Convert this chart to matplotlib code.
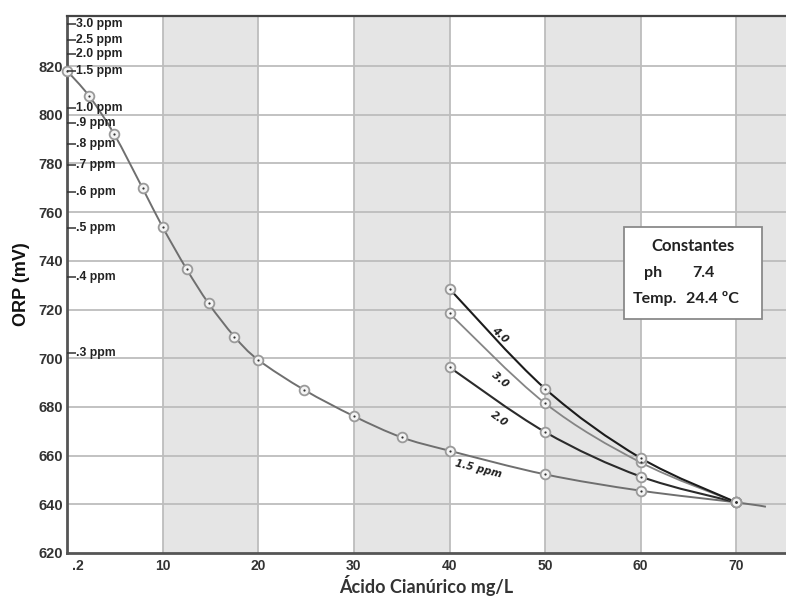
import numpy as np
import matplotlib
matplotlib.use("Agg")
import matplotlib.pyplot as plt
from matplotlib.path import Path
from matplotlib.patches import PathPatch, Rectangle

# Curva principal (acido cianurico vs ORP) y su continuacion a 1.5 ppm
cya_main = [0, 2.3, 4.9, 7.9, 10, 12.5, 14.8, 17.5, 20, 24.8, 30, 35, 40, 50, 60, 70]
orp_main = [818, 807.7, 792.2, 769.8, 753.8, 736.6, 722.5, 708.9, 699.3, 687.0,
            676.2, 667.5, 662.0, 652.3, 645.6, 640.8]
tail_cya = 73.1
tail_orp = 639.0

# Curvas de cloro 2.0 / 3.0 / 4.0 ppm
cya_branch = [40, 50, 60, 70]
orp_2ppm = [696.3, 669.7, 651.4, 640.8]
orp_3ppm = [718.4, 681.5, 657.2, 640.8]
orp_4ppm = [728.5, 687.5, 659.0, 640.8]

# Escala de ppm sobre el eje izquierdo
ppm_labels = ["3.0 ppm", "2.5 ppm", "2.0 ppm", "1.5 ppm", "1.0 ppm", ".9 ppm",
              ".8 ppm", ".7 ppm", ".6 ppm", ".5 ppm", ".4 ppm", ".3 ppm"]
ppm_orp = [837.2, 830.7, 824.9, 817.9, 802.6, 796.7, 787.8, 779.3, 768.4, 753.3, 733.5, 702.0]

x_ticks = [1.1, 10, 20, 30, 40, 50, 60, 70]
x_ticklabels = [".2", "10", "20", "30", "40", "50", "60", "70"]
y_ticks = [620, 640, 660, 680, 700, 720, 740, 760, 780, 800, 820]


def smooth_path(xs, ys):
    # Catmull-Rom -> Bezier cubica, pasa por todos los puntos
    pts = np.column_stack([xs, ys]).astype(float)
    ext = np.vstack([pts[0], pts, pts[-1]])
    verts = [pts[0]]
    codes = [Path.MOVETO]
    for i in range(1, len(ext) - 2):
        p0, p1, p2, p3 = ext[i - 1], ext[i], ext[i + 1], ext[i + 2]
        verts += [p1 + (p2 - p0) / 6, p2 - (p3 - p1) / 6, p2]
        codes += [Path.CURVE4] * 3
    return Path(verts, codes)


fig = plt.figure(figsize=(7.86, 5.99), dpi=100)
ax = fig.add_axes([0.0854, 0.0768, 0.9146, 0.897])
ax.set_xlim(0, 75.2)
ax.set_ylim(620, 840.7)

# bandas grises
for start in range(10, 80, 20):
    ax.axvspan(start, start + 10, color="#e5e5e5", lw=0, zorder=0)

ax.vlines(range(10, 80, 10), 620, 841, colors="#bdbdbd", lw=1.3, zorder=1)
ax.hlines(y_ticks[1:], 0, 76, colors="#bdbdbd", lw=1.3, zorder=1)

# curvas
styles = [
    (cya_main + [tail_cya], orp_main + [tail_orp], "#6f6f6f", 1.4),
    (cya_branch, orp_2ppm, "#2b2b2b", 1.5),
    (cya_branch, orp_3ppm, "#858585", 1.3),
    (cya_branch, orp_4ppm, "#1c1c1c", 1.5),
]
for xs, ys, col, lw in styles:
    ax.add_patch(PathPatch(smooth_path(xs, ys), fill=False, edgecolor=col, lw=lw, zorder=3))

for xs, ys in [(cya_main, orp_main), (cya_branch, orp_2ppm),
               (cya_branch, orp_3ppm), (cya_branch, orp_4ppm)]:
    ax.plot(xs, ys, "o", ms=7, mfc="#f4f4f4", mec="#9a9a9a", mew=1.3, zorder=4, clip_on=False)
    ax.plot(xs, ys, "o", ms=1.6, mfc="#333333", mec="none", zorder=5, clip_on=False)

# etiquetas de las curvas
lbl = dict(fontsize=7.5, fontweight="bold", style="italic", color="#222222",
           ha="center", va="center", zorder=6, family="DejaVu Sans")
ax.text(45.3, 709.5, "4.0", rotation=-42, **lbl)
ax.text(45.3, 691.0, "3.0", rotation=-40, **lbl)
ax.text(45.2, 675.0, "2.0", rotation=-36, **lbl)
ax.text(43.0, 654.5, "1.5 ppm", rotation=-14, **lbl)

# escala ppm en el eje izquierdo
ytr = ax.get_yaxis_transform()
ax.hlines(ppm_orp, 0, 0.012, transform=ytr, colors="#333333", lw=1.1, zorder=6)
for lab, y in zip(ppm_labels, ppm_orp):
    ax.text(0.012, y, lab, transform=ytr, fontsize=8.8, fontweight="bold",
            color="#222222", ha="left", va="center", zorder=6, family="Liberation Sans")

# ejes
ax.spines["right"].set_visible(False)
for s in ["left", "bottom"]:
    ax.spines[s].set_color("#555555")
    ax.spines[s].set_linewidth(2.0)
ax.spines["top"].set_color("#444444")
ax.spines["top"].set_linewidth(1.6)

ax.set_xticks(x_ticks)
ax.set_xticklabels(x_ticklabels)
ax.set_yticks(y_ticks)
ax.tick_params(length=0, labelcolor="#333333")
ax.tick_params(axis="y", labelsize=10.5, pad=3)
ax.tick_params(axis="x", labelsize=10, pad=4)
for t in ax.get_xticklabels() + ax.get_yticklabels():
    t.set_fontweight("bold")
    t.set_family("Liberation Sans")

ax.set_ylabel("ORP (mV)", fontsize=13, fontweight="bold", family="Liberation Sans", color="#111111")
ax.yaxis.set_label_coords(-0.052, 0.5)
ax.set_xlabel("Ácido Cianúrico mg/L", fontsize=13, fontweight="bold", family="Lato", color="#333333")
ax.xaxis.set_label_coords(0.5, -0.041)

# cuadro de constantes
ax.add_patch(Rectangle((0.774, 0.435), 0.192, 0.171, transform=ax.transAxes,
                       facecolor="white", edgecolor="#8a8a8a", lw=1.3, zorder=7))
box = dict(transform=ax.transAxes, fontsize=11.5, fontweight="bold", family="Lato",
           color="#222222", va="center", zorder=8)
ax.text(0.870, 0.571, "Constantes", ha="center", fontsize=12, **{k: v for k, v in box.items() if k != "fontsize"})
ax.text(0.803, 0.521, "ph", ha="left", **box)
ax.text(0.869, 0.521, "7.4", ha="left", **box)
ax.text(0.787, 0.473, "Temp.", ha="left", **box)
ax.text(0.861, 0.473, "24.4 ºC", ha="left", **box)

fig.savefig("out.png", dpi=100)
